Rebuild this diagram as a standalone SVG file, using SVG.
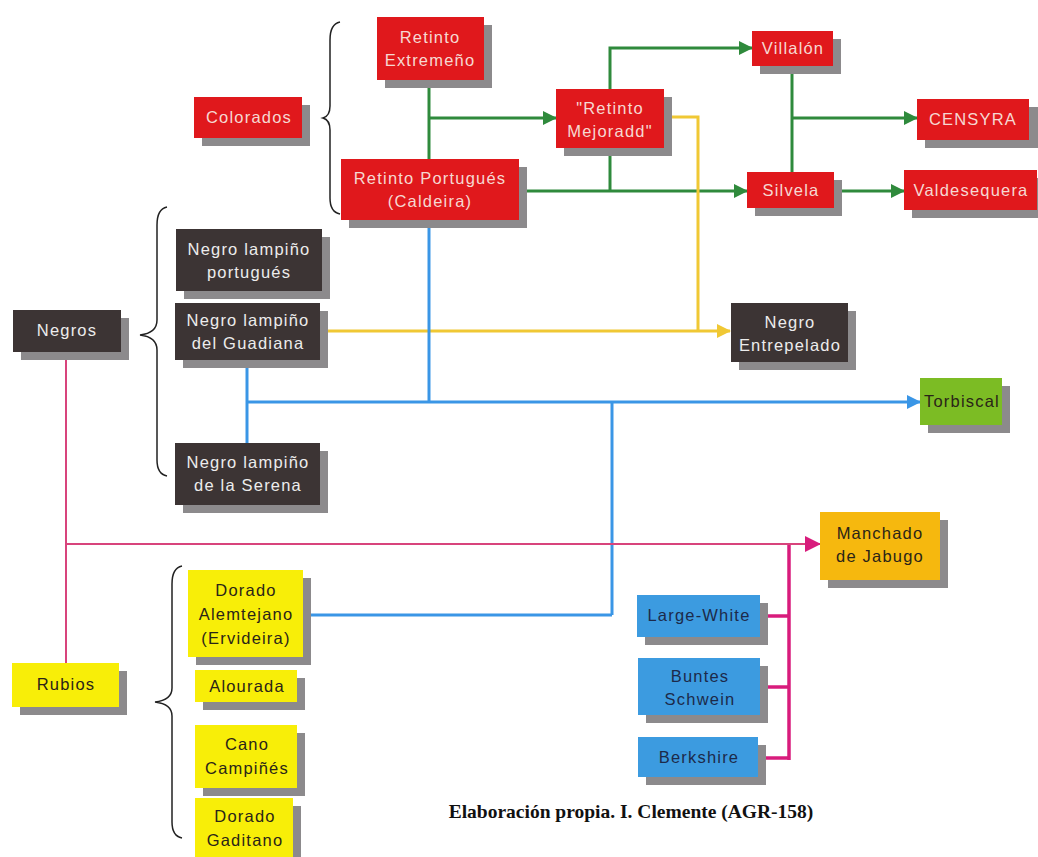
<svg xmlns="http://www.w3.org/2000/svg" width="1038" height="857" viewBox="0 0 1038 857">
<style>
.sh{fill:#8c8a8c}
.red{fill:#e0181c}
.dark{fill:#3c3434}
.yel{fill:#f8ee08}
.blu{fill:#3c9be0}
.grn{fill:#7cbc24}
.org{fill:#f6b80e}
text{font-family:"Liberation Sans",Arial,sans-serif;font-size:16.5px;text-anchor:middle;letter-spacing:1.2px}
.tr{fill:#f6d8d2}
.td{fill:#ececec}
.tk{fill:#2a2418}
.tb{fill:#1c2a4a}
.c{fill:none;stroke-linejoin:miter}
.g{stroke:#2f8a3c;stroke-width:3}
.y{stroke:#f0c834;stroke-width:3}
.b{stroke:#3a96e6;stroke-width:3}
.p{stroke:#d8447c;stroke-width:2}
.m{stroke:#d81c7c;stroke-width:3.5}
.br{fill:none;stroke:#222;stroke-width:1.5}
</style>
<defs>
<marker id="ag" markerUnits="userSpaceOnUse" markerWidth="14" markerHeight="14" refX="13" refY="7" orient="auto"><path d="M0,0 L14,7 L0,14 Z" fill="#2f8a3c"/></marker>
<marker id="ay" markerUnits="userSpaceOnUse" markerWidth="14" markerHeight="14" refX="13" refY="7" orient="auto"><path d="M0,0 L14,7 L0,14 Z" fill="#f0c834"/></marker>
<marker id="ab" markerUnits="userSpaceOnUse" markerWidth="14" markerHeight="14" refX="13" refY="7" orient="auto"><path d="M0,0 L14,7 L0,14 Z" fill="#3a96e6"/></marker>
<marker id="ap" markerUnits="userSpaceOnUse" markerWidth="16" markerHeight="16" refX="15" refY="8" orient="auto"><path d="M0,0 L16,8 L0,16 Z" fill="#d81c7c"/></marker>
</defs>
<rect width="1038" height="857" fill="#ffffff"/>

<g id="braces">
<path class="br" d="M340,22 Q330,24 330,40 V106 Q330,116 323,118 Q330,120 330,130 V198 Q330,212 340,214"/>
<path class="br" d="M167,207 Q157,209 157,225 V320 Q157,333 140,335 Q157,337 157,350 V460 Q157,474 167,476"/>
<path class="br" d="M182,566 Q172,568 172,584 V688 Q172,700 155,702 Q172,704 172,716 V822 Q172,836 182,838"/>
</g>

<g id="connectors">
<path class="c g" d="M429,80 V159"/>
<path class="c g" d="M429,118 H556" marker-end="url(#ag)"/>
<path class="c g" d="M610,89 V48 H752" marker-end="url(#ag)"/>
<path class="c g" d="M519,191 H747" marker-end="url(#ag)"/>
<path class="c g" d="M610,148 V191"/>
<path class="c g" d="M792,66 V172"/>
<path class="c g" d="M792,118 H917" marker-end="url(#ag)"/>
<path class="c g" d="M834,191 H904" marker-end="url(#ag)"/>
<path class="c y" d="M664,117 H698 V331"/>
<path class="c y" d="M320,331 H730" marker-end="url(#ay)"/>
<path class="c b" d="M429,220 V402"/>
<path class="c b" d="M247,360 V443"/>
<path class="c b" d="M247,402 H920" marker-end="url(#ab)"/>
<path class="c b" d="M612,402 V615"/>
<path class="c b" d="M303,615 H612"/>
<path class="c p" d="M66,352 V663"/>
<path class="c p" d="M66,544 H820" marker-end="url(#ap)"/>
<path class="c m" d="M789,545 V760"/>
<path class="c m" d="M760,616 H789"/>
<path class="c m" d="M760,687 H789"/>
<path class="c m" d="M758,758 H789"/>
</g>

<g id="retinto-extremeno"><rect class="sh" x="385" y="25" width="107" height="63"/><rect class="red" x="377" y="17" width="107" height="63"/><text class="tr" x="430" y="43">Retinto</text><text class="tr" x="430" y="66">Extremeño</text></g>
<g id="colorados"><rect class="sh" x="202" y="105" width="108" height="41"/><rect class="red" x="194" y="97" width="108" height="41"/><text class="tr" x="249" y="123">Colorados</text></g>
<g id="retinto-portugues"><rect class="sh" x="349" y="167" width="178" height="61"/><rect class="red" x="341" y="159" width="178" height="61"/><text class="tr" x="430" y="184">Retinto Portugués</text><text class="tr" x="430" y="207">(Caldeira)</text></g>
<g id="retinto-mejorado"><rect class="sh" x="564" y="97" width="108" height="59"/><rect class="red" x="556" y="89" width="108" height="59"/><text class="tr" x="610" y="114">"Retinto</text><text class="tr" x="610" y="137">Mejoradd"</text></g>
<g id="villalon"><rect class="sh" x="760" y="39" width="81" height="35"/><rect class="red" x="752" y="31" width="81" height="35"/><text class="tr" x="793" y="54">Villalón</text></g>
<g id="censyra"><rect class="sh" x="925" y="107" width="113" height="41"/><rect class="red" x="917" y="99" width="112" height="41"/><text class="tr" x="973" y="125">CENSYRA</text></g>
<g id="silvela"><rect class="sh" x="755" y="180" width="87" height="36"/><rect class="red" x="747" y="172" width="87" height="36"/><text class="tr" x="791" y="196">Silvela</text></g>
<g id="valdesequera"><rect class="sh" x="912" y="178" width="126" height="40"/><rect class="red" x="904" y="170" width="133" height="40"/><text class="tr" x="971" y="196">Valdesequera</text></g>

<g id="negro-portugues"><rect class="sh" x="184" y="237" width="146" height="62"/><rect class="dark" x="176" y="229" width="146" height="62"/><text class="td" x="249" y="255">Negro lampiño</text><text class="td" x="249" y="278">portugués</text></g>
<g id="negros"><rect class="sh" x="21" y="318" width="108" height="42"/><rect class="dark" x="13" y="310" width="108" height="42"/><text class="td" x="67" y="336">Negros</text></g>
<g id="negro-guadiana"><rect class="sh" x="183" y="311" width="145" height="57"/><rect class="dark" x="175" y="303" width="145" height="57"/><text class="td" x="248" y="326">Negro lampiño</text><text class="td" x="248" y="349">del Guadiana</text></g>
<g id="negro-entrepelado"><rect class="sh" x="739" y="311" width="117" height="59"/><rect class="dark" x="731" y="303" width="117" height="59"/><text class="td" x="790" y="328">Negro</text><text class="td" x="790" y="351">Entrepelado</text></g>
<g id="negro-serena"><rect class="sh" x="183" y="451" width="145" height="62"/><rect class="dark" x="175" y="443" width="145" height="62"/><text class="td" x="248" y="468">Negro lampiño</text><text class="td" x="248" y="491">de la Serena</text></g>
<g id="torbiscal"><rect class="sh" x="928" y="386" width="82" height="47"/><rect class="grn" x="920" y="378" width="82" height="47"/><text class="tk" x="962" y="407">Torbiscal</text></g>

<g id="manchado"><rect class="sh" x="828" y="520" width="120" height="68"/><rect class="org" x="820" y="512" width="120" height="68"/><text class="tk" x="880" y="539">Manchado</text><text class="tk" x="880" y="562">de Jabugo</text></g>
<g id="rubios"><rect class="sh" x="20" y="671" width="107" height="44"/><rect class="yel" x="12" y="663" width="107" height="44"/><text class="tk" x="66" y="690">Rubios</text></g>
<g id="dorado-alemtejano"><rect class="sh" x="196" y="578" width="115" height="87"/><rect class="yel" x="188" y="570" width="115" height="87"/><text class="tk" x="246" y="596">Dorado</text><text class="tk" x="246" y="620">Alemtejano</text><text class="tk" x="246" y="644">(Ervideira)</text></g>
<g id="alourada"><rect class="sh" x="203" y="678" width="102" height="32"/><rect class="yel" x="195" y="670" width="102" height="32"/><text class="tk" x="247" y="692">Alourada</text></g>
<g id="cano-campines"><rect class="sh" x="203" y="733" width="102" height="63"/><rect class="yel" x="195" y="725" width="102" height="63"/><text class="tk" x="247" y="750">Cano</text><text class="tk" x="247" y="774">Campiñés</text></g>
<g id="dorado-gaditano"><rect class="sh" x="203" y="806" width="98" height="51"/><rect class="yel" x="195" y="798" width="98" height="59"/><text class="tk" x="245" y="822">Dorado</text><text class="tk" x="245" y="846">Gaditano</text></g>
<g id="large-white"><rect class="sh" x="645" y="603" width="123" height="42"/><rect class="blu" x="637" y="595" width="123" height="42"/><text class="tb" x="699" y="621">Large-White</text></g>
<g id="buntes-schwein"><rect class="sh" x="646" y="666" width="122" height="57"/><rect class="blu" x="638" y="658" width="122" height="57"/><text class="tb" x="700" y="682">Buntes</text><text class="tb" x="700" y="705">Schwein</text></g>
<g id="berkshire"><rect class="sh" x="646" y="745" width="120" height="40"/><rect class="blu" x="638" y="737" width="120" height="40"/><text class="tb" x="699" y="763">Berkshire</text></g>

<text x="631" y="818" style="font-family:'Liberation Serif','Times New Roman',serif;font-weight:bold;font-size:19.5px;fill:#111;letter-spacing:0">Elaboración propia. I. Clemente (AGR-158)</text>
</svg>
